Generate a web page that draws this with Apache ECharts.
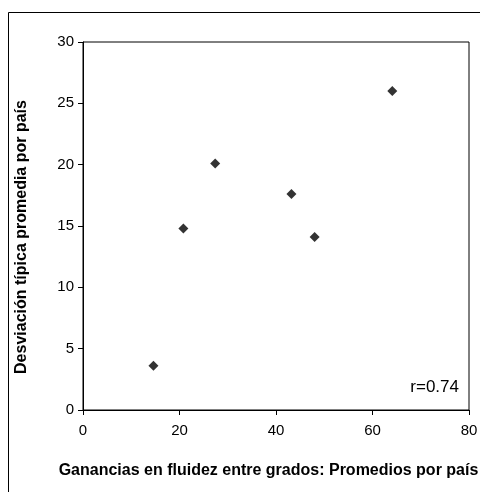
<!DOCTYPE html>
<html>
<head>
<meta charset="utf-8">
<script src="https://cdn.jsdelivr.net/npm/echarts@6/dist/echarts.min.js"></script>
<style>html,body{margin:0;padding:0;background:#fff}#c{width:480px;height:492px}</style>
</head>
<body>
<div id="c"></div>
<script>
const xValues = [14.6, 20.8, 27.4, 43.2, 48.0, 64.1];
const yValues = [3.6, 14.8, 20.1, 17.6, 14.1, 26.0];
const xTicks = [0, 20, 40, 60, 80];
const yTicks = [0, 5, 10, 15, 20, 25, 30];
const xName = 'Ganancias en fluidez entre grados: Promedios por país';
const yName = 'Desviación típica promedia por país';
const rLabel = 'r=0.74';

const font = "'Liberation Sans', Arial, sans-serif";
const chart = echarts.init(document.getElementById('c'), null, {renderer: 'canvas'});
chart.setOption({
  animation: false,
  backgroundColor: '#fff',
  grid: {left: 83, top: 42, right: 11, bottom: 82, containLabel: false, outerBoundsMode: 'none',
         show: true, borderColor: '#000', borderWidth: 1, backgroundColor: 'transparent'},
  graphic: [
    {type: 'rect', shape: {x: 8.5, y: 12.5, width: 500, height: 500}, style: {fill: 'none', stroke: '#000', lineWidth: 1}, z: 0},
    {type: 'text', right: 21, top: 379, style: {text: rLabel, font: '17px ' + font, fill: '#000'}}
  ],
  xAxis: {
    type: 'value', min: xTicks[0], max: xTicks[xTicks.length - 1], interval: 20,
    name: xName, nameLocation: 'middle', nameGap: 53,
    nameTextStyle: {fontFamily: font, fontWeight: 'bold', fontSize: 16, color: '#000', padding: [0, 15, 0, 0]},
    axisLine: {show: true, lineStyle: {color: '#000', width: 1}},
    axisTick: {show: true, inside: false, length: 5, lineStyle: {color: '#000'}},
    axisLabel: {fontFamily: font, fontSize: 15, color: '#000', margin: 13},
    splitLine: {show: false}
  },
  yAxis: {
    type: 'value', min: yTicks[0], max: yTicks[yTicks.length - 1], interval: 5,
    name: yName, nameLocation: 'middle', nameGap: 53,
    nameTextStyle: {fontFamily: font, fontWeight: 'bold', fontSize: 16, color: '#000', padding: [0, 22, 0, 0]},
    axisLine: {show: true, lineStyle: {color: '#000', width: 1}},
    axisTick: {show: true, inside: false, length: 5, lineStyle: {color: '#000'}},
    axisLabel: {fontFamily: font, fontSize: 15, color: '#000', margin: 9},
    splitLine: {show: false}
  },
  series: [{
    type: 'scatter',
    symbol: 'diamond',
    symbolSize: 10,
    itemStyle: {color: '#000'},
    data: xValues.map((x, i) => [x, yValues[i]])
  }]
});
</script>
</body>
</html>
